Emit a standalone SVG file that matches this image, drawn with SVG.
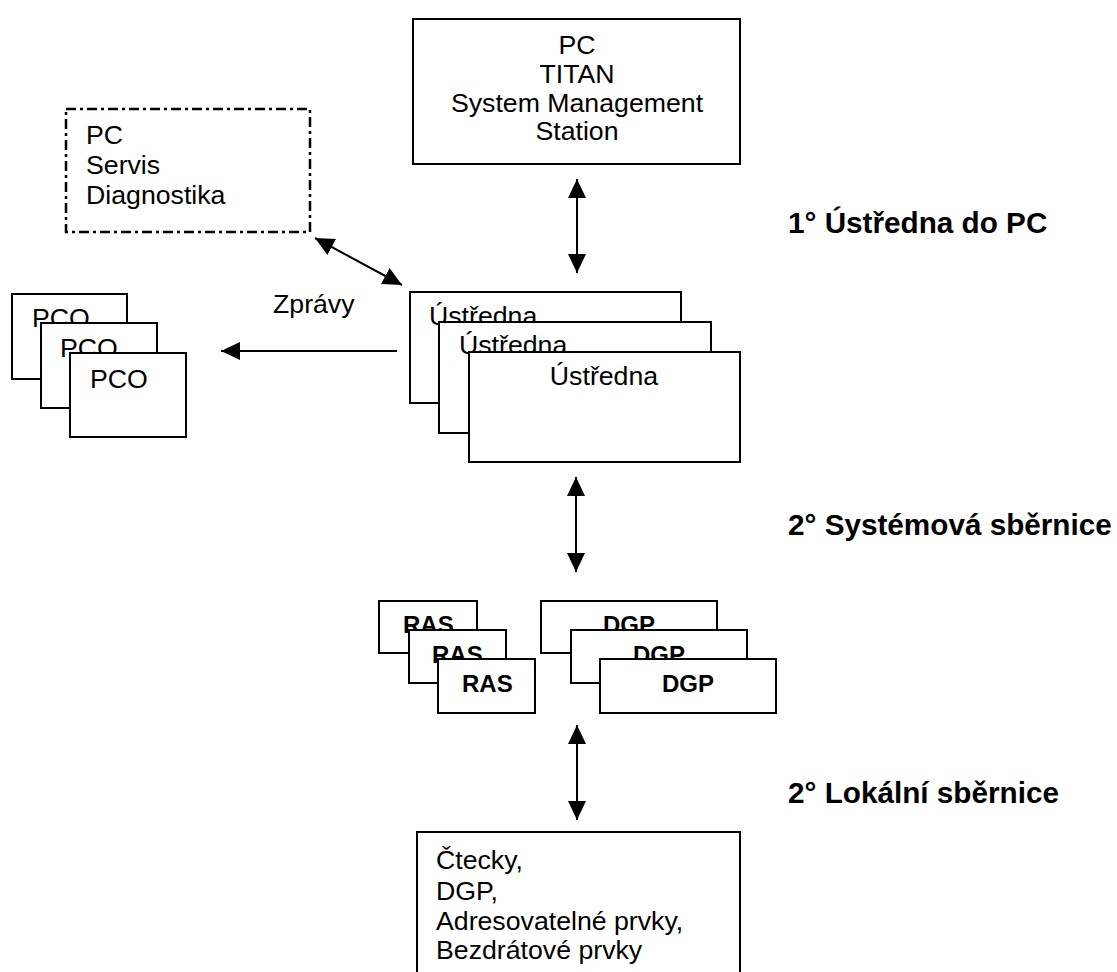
<svg xmlns="http://www.w3.org/2000/svg" width="1117" height="972" viewBox="0 0 1117 972">
<style>
.box{fill:#fff;stroke:#000;stroke-width:2}
.dash{fill:#fff;stroke:#000;stroke-width:2.5;stroke-dasharray:10 4 3 4}
.t{font-family:"Liberation Sans",Arial,sans-serif;font-size:26.7px;fill:#000}
.b{font-family:"Liberation Sans",Arial,sans-serif;font-size:24px;font-weight:bold;fill:#000}
.lbl{font-family:"Liberation Sans",Arial,sans-serif;font-size:29.7px;font-weight:bold;fill:#000}
.c{text-anchor:middle}
.ln{stroke:#000;stroke-width:2;fill:none}
</style>
<defs>
<marker id="ah" viewBox="0 0 19 18" refX="19" refY="9" markerWidth="19" markerHeight="18" markerUnits="userSpaceOnUse" orient="auto-start-reverse">
<path d="M0,0 L19,9 L0,18 Z" fill="#000"/>
</marker>
</defs>
<rect width="1117" height="972" fill="#fff"/>
<g id="pc-titan">
<rect class="box" x="413" y="19" width="327" height="145"/>
<text class="t c" x="577" y="54">PC</text>
<text class="t c" x="577" y="83">TITAN</text>
<text class="t c" x="577" y="112">System Management</text>
<text class="t c" x="577" y="140">Station</text>
</g>
<g id="pc-servis">
<rect class="dash" x="66" y="109" width="244" height="123"/>
<text class="t" x="86" y="144">PC</text>
<text class="t" x="86" y="174">Servis</text>
<text class="t" x="86" y="204">Diagnostika</text>
</g>
<g id="pco">
<rect class="box" x="12" y="294" width="115" height="85"/>
<text class="t" x="32" y="327">PCO</text>
<rect class="box" x="41" y="323" width="116" height="85"/>
<text class="t" x="60" y="357">PCO</text>
<rect class="box" x="70" y="353" width="116" height="84"/>
<text class="t" x="90" y="388">PCO</text>
</g>
<g id="ustredna">
<rect class="box" x="410" y="292" width="271" height="111"/>
<text class="t" x="429" y="325">Ústředna</text>
<rect class="box" x="439" y="322" width="272" height="111"/>
<text class="t" x="459" y="354">Ústředna</text>
<rect class="box" x="469" y="352" width="271" height="110"/>
<text class="t c" x="604" y="385">Ústředna</text>
</g>
<g id="ras">
<rect class="box" x="379" y="601" width="98" height="52"/>
<text class="b" x="403" y="633">RAS</text>
<rect class="box" x="409" y="630" width="97" height="53"/>
<text class="b" x="432" y="663">RAS</text>
<rect class="box" x="438" y="659" width="97" height="54"/>
<text class="b" x="462" y="692">RAS</text>
</g>
<g id="dgp">
<rect class="box" x="541" y="601" width="176" height="52"/>
<text class="b c" x="629" y="633">DGP</text>
<rect class="box" x="571" y="630" width="176" height="53"/>
<text class="b c" x="659" y="663">DGP</text>
<rect class="box" x="600" y="659" width="176" height="54"/>
<text class="b c" x="688" y="692">DGP</text>
</g>
<g id="prvky">
<rect class="box" x="417" y="832" width="323" height="150"/>
<text class="t" x="436" y="869">Čtecky,</text>
<text class="t" x="436" y="900">DGP,</text>
<text class="t" x="436" y="930">Adresovatelné prvky,</text>
<text class="t" x="436" y="959">Bezdrátové prvky</text>
</g>
<g id="connectors">
<line class="ln" x1="577" y1="179" x2="577" y2="273" marker-start="url(#ah)" marker-end="url(#ah)"/>
<line class="ln" x1="315" y1="238" x2="402" y2="285" marker-start="url(#ah)" marker-end="url(#ah)"/>
<line class="ln" x1="397" y1="351" x2="221" y2="351" marker-end="url(#ah)"/>
<line class="ln" x1="576" y1="477" x2="576" y2="572" marker-start="url(#ah)" marker-end="url(#ah)"/>
<line class="ln" x1="577" y1="725" x2="577" y2="820" marker-start="url(#ah)" marker-end="url(#ah)"/>
</g>
<g id="labels">
<text class="t" x="273" y="313">Zprávy</text>
<text class="lbl" x="788" y="233">1° Ústředna do PC</text>
<text class="lbl" x="788" y="535">2° Systémová sběrnice</text>
<text class="lbl" x="788" y="803">2° Lokální sběrnice</text>
</g>
</svg>
